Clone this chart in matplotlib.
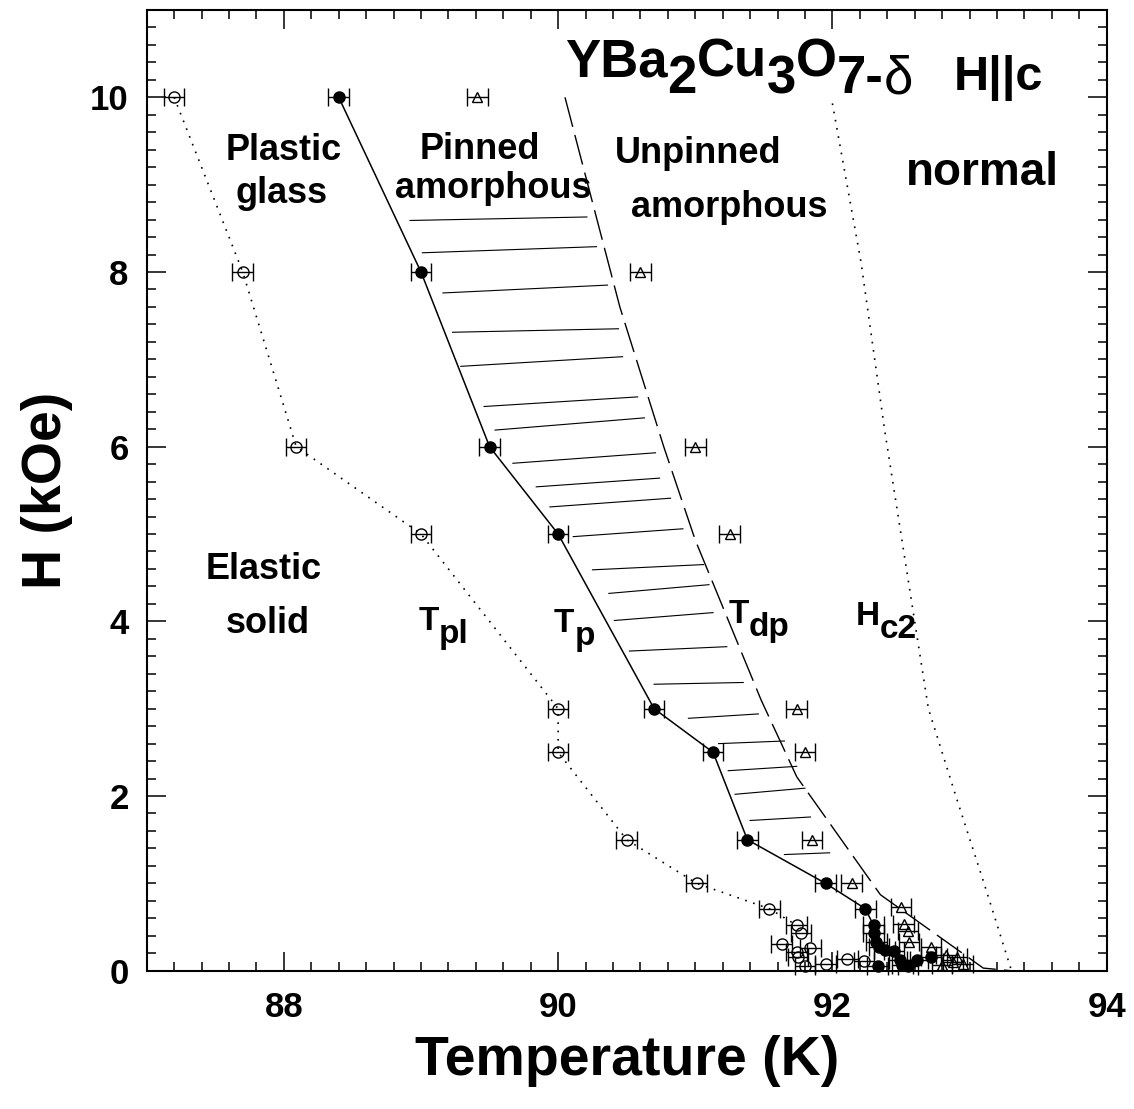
import matplotlib
matplotlib.use('Agg')
import matplotlib.pyplot as plt
import matplotlib.transforms as mtransforms
from matplotlib.ticker import MultipleLocator

plt.rcParams['font.family'] = ['Liberation Sans', 'DejaVu Sans']
plt.rcParams['font.weight'] = 'bold'

# T_pl : plastic transition (open circles)
T_pl = [87.2, 87.7, 88.09, 89.0, 90.0, 90.0, 90.5, 91.01, 91.54, 91.74,
        91.77, 91.63, 91.84, 91.74, 91.75, 92.11, 92.23, 91.95, 91.80]
H_pl = [10, 8, 6, 5, 3, 2.5, 1.5, 1.0, 0.71, 0.52,
        0.43, 0.31, 0.26, 0.21, 0.16, 0.13, 0.11, 0.08, 0.05]

# T_p : peak / pinning transition (filled circles)
T_p = [88.4, 89.0, 89.5, 90.0, 90.7, 91.13, 91.38, 91.95, 92.24, 92.30, 92.30,
       92.32, 92.34, 92.38, 92.45, 92.49, 92.51, 92.55, 92.62, 92.72, 92.33]
H_p = [10, 8, 6, 5, 3, 2.5, 1.5, 1.0, 0.71, 0.52, 0.43,
       0.33, 0.27, 0.24, 0.22, 0.12, 0.07, 0.05, 0.12, 0.16, 0.05]

# T_dp : depinning (open triangles)
T_dp = [89.41, 90.6, 91.0, 91.25, 91.74, 91.8, 91.85, 92.14, 92.5, 92.52,
        92.55, 92.56, 92.72, 92.83, 92.91, 92.88, 92.95, 92.8]
H_dp = [10, 8, 6, 5, 3, 2.5, 1.5, 1.0, 0.73, 0.54,
        0.45, 0.33, 0.27, 0.18, 0.16, 0.10, 0.08, 0.06]

err_T = 0.075

# dashed T_dp boundary
T_dp_line = [90.05, 90.45, 90.77, 91.0, 91.48, 91.74, 92.35, 93.1, 93.3]
H_dp_line = [10, 7.6, 6.0, 4.93, 3.1, 2.22, 0.87, 0.03, 0.0]

# Hc2 line
T_c2 = [92.0, 92.21, 92.38, 92.55, 92.7, 92.9, 93.11, 93.19, 93.3]
H_c2 = [9.93, 8.1, 6.2, 4.5, 3.0, 2.0, 0.98, 0.58, 0.03]

# hatching between T_p and T_dp
hatch_T0 = [88.92, 89.01, 89.16, 89.23, 89.29, 89.46, 89.54, 89.67, 89.84, 89.94, 90.11,
            90.25, 90.37, 90.41, 90.52, 90.70, 90.95, 91.17, 91.24, 91.29, 91.40, 91.65]
hatch_H0 = [8.59, 8.22, 7.76, 7.31, 6.92, 6.46, 6.19, 5.81, 5.54, 5.31, 4.97,
            4.59, 4.32, 4.01, 3.66, 3.28, 2.89, 2.60, 2.29, 2.02, 1.72, 1.33]
hatch_T1 = [90.21, 90.28, 90.36, 90.44, 90.47, 90.58, 90.63, 90.71, 90.74, 90.82, 90.91,
            91.06, 91.10, 91.13, 91.23, 91.35, 91.46, 91.65, 91.74, 91.80, 91.84, 91.98]
hatch_H1 = [8.63, 8.29, 7.85, 7.35, 7.03, 6.57, 6.33, 5.93, 5.64, 5.41, 5.06,
            4.65, 4.42, 4.10, 3.71, 3.30, 2.94, 2.63, 2.34, 2.09, 1.76, 1.35]

fig = plt.figure(figsize=(11.34, 11.09), dpi=100)
ax = fig.add_axes([0.1294, 0.1247, 0.8465, 0.8663])
renderer = fig.canvas.get_renderer()

# hatch lines
for x0, y0, x1, y1 in zip(hatch_T0, hatch_H0, hatch_T1, hatch_H1):
    ax.plot([x0, x1], [y0, y1], color='k', lw=0.8)

# boundaries
ax.plot(T_pl[:10], H_pl[:10], color='k', ls=(0, (1, 4)), lw=1.2)
ax.plot(T_p[:18], H_p[:18], color='k', lw=1.1)
ax.plot(T_dp_line, H_dp_line, color='k', ls=(0, (22, 6)), lw=1.0)
ax.plot(T_c2, H_c2, color='k', ls=(0, (1, 4)), lw=1.2)

eb = dict(xerr=err_T, ecolor='k', elinewidth=1, capsize=6.5, capthick=1,
          clip_on=False, zorder=3, mec='k', mew=1, linestyle='none')
ax.errorbar(T_pl, H_pl, fmt='o', ms=8, mfc='none', **eb)
ax.errorbar(T_dp, H_dp, fmt='^', ms=7.5, mfc='none', **eb)
ax.errorbar(T_p, H_p, fmt='o', ms=8, mfc='k', **eb)

ax.set_xlim(87, 94)
ax.set_ylim(0, 11)
ax.xaxis.set_major_locator(MultipleLocator(2))
ax.xaxis.set_minor_locator(MultipleLocator(0.2))
ax.yaxis.set_major_locator(MultipleLocator(2))
ax.yaxis.set_minor_locator(MultipleLocator(0.2))
ax.tick_params(which='both', direction='in', top=True, right=True, width=1.1)
ax.tick_params(which='major', length=14, labelsize=25)
ax.tick_params(which='minor', length=6.7)
ax.tick_params(axis='x', pad=14.5)
ax.tick_params(axis='y', pad=13)
for s in ax.spines.values():
    s.set_linewidth(1.5)

ax.set_xlabel('Temperature (K)', fontsize=40, fontweight='bold', labelpad=8)
ax.set_ylabel('H (kOe)', fontsize=40, fontweight='bold', labelpad=12)


def chain_text(x, y, pieces):
    dx = 0.0
    for s, size, dy, weight in pieces:
        tr = mtransforms.offset_copy(ax.transData, fig=fig, x=dx, y=dy, units='dots')
        t = ax.text(x, y, s, transform=tr, fontsize=size, fontweight=weight,
                    ha='left', va='baseline')
        dx += t.get_window_extent(renderer=renderer).width


# formula title
chain_text(90.05, 10.24, [('YBa', 38, 0, 'bold'), ('2', 38, -16.7, 'bold'),
                          ('Cu', 38, 0, 'bold'), ('3', 38, -16.7, 'bold'),
                          ('O', 38, 0, 'bold'), ('7-', 38, -16.7, 'bold'),
                          ('\u03b4', 38, -16.7, 'normal')])
ax.text(92.885, 10.08, 'H||c', fontsize=35, ha='left', va='baseline')

# phase labels
lab = dict(fontsize=26, ha='center', va='baseline')
ax.text(88.0, 9.28, 'Plastic', **lab)
ax.text(87.98, 8.79, 'glass', **lab)
ax.text(89.43, 9.29, 'Pinned', **lab)
ax.text(89.53, 8.85, 'amorphous', **lab)
ax.text(91.02, 9.25, 'Unpinned', **lab)
ax.text(91.25, 8.63, 'amorphous', **lab)
ax.text(93.09, 9.0, 'normal', fontsize=33, ha='center', va='baseline')
ax.text(87.85, 4.49, 'Elastic', **lab)
ax.text(87.88, 3.87, 'solid', **lab)

chain_text(88.98, 3.90, [('T', 24, 0, 'bold'), ('pl', 24, -13, 'bold')])
chain_text(89.97, 3.88, [('T', 24, 0, 'bold'), ('p', 24, -13, 'bold')])
chain_text(91.24, 3.98, [('T', 24, 0, 'bold'), ('dp', 24, -13, 'bold')])
chain_text(92.17, 3.96, [('H', 24, 0, 'bold'), ('c2', 24, -13, 'bold')])

fig.savefig('out.png', dpi=100)
